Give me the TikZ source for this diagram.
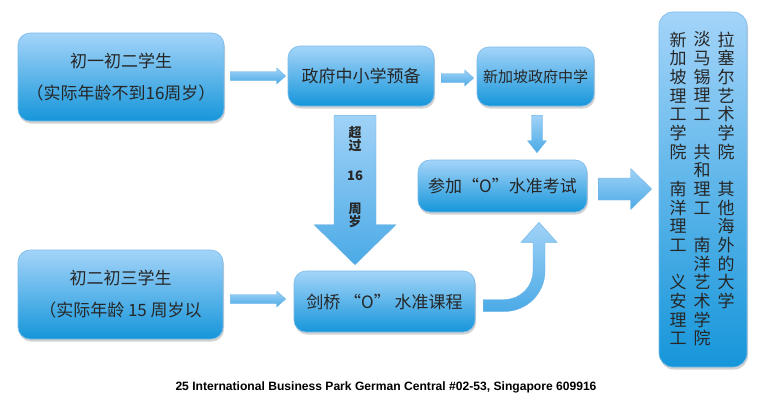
\documentclass[tikz,border=0pt]{standalone}
\usepackage{fontspec}
\newfontfamily\cjk{Noto Sans CJK SC}
\newfontfamily\footfont{Liberation Sans}
\usetikzlibrary{calc,shadows}
\definecolor{boxTop}{RGB}{164,212,249}
\definecolor{boxBot}{RGB}{22,150,218}
\definecolor{boxEdge}{RGB}{120,185,232}
\definecolor{arrTop}{RGB}{160,210,247}
\definecolor{arrBot}{RGB}{75,170,230}
\definecolor{arrEdge}{RGB}{110,180,230}
\definecolor{txt}{RGB}{38,38,38}
\tikzset{
  box/.style={rectangle, rounded corners=12pt, top color=boxTop, bottom color=boxBot,
    draw=boxEdge, line width=0.6pt,
    drop shadow={shadow xshift=1pt, shadow yshift=-2.5pt, opacity=0.35},
    inner sep=0pt, text=txt, font=\cjk\fontsize{17}{32}\selectfont, align=center},
  arrowfill/.style={top color=arrTop, bottom color=arrBot, draw=arrEdge, line width=0.4pt},
  coltext/.style={inner sep=0pt, text=txt, align=center, anchor=north,
    font=\cjk\fontsize{17}{18.67}\selectfont},
}
\newcommand\myHArrow[6]{\path[#6] let \p1=#1, \p2=#2 in
  (\x1,\y1+#3) -- (\x2-#5,\y1+#3) -- (\x2-#5,\y1+#4) -- (\x2,\y1) --
  (\x2-#5,\y1-#4) -- (\x2-#5,\y1-#3) -- (\x1,\y1-#3) -- cycle;}
\newcommand\myVArrow[6]{\path[#6] let \p1=#1, \p2=#2 in
  (\x1-#3,\y1) -- (\x1-#3,\y2+#5) -- (\x1-#4,\y2+#5) -- (\x1,\y2) --
  (\x1+#4,\y2+#5) -- (\x1+#3,\y2+#5) -- (\x1+#3,\y1) -- cycle;}
\begin{document}
\begin{tikzpicture}[x=1pt,y=-1pt]
\fill[white] (0,0) rectangle (760,400);
\useasboundingbox (0,0) rectangle (760,400);

% boxes
\node[box, minimum width=206pt, minimum height=88pt] (a) at (121,77)
  {初一初二学生\\（实际年龄不到16周岁）};
\node[box, minimum width=146pt, minimum height=60pt] (b) at (361,76) {政府中小学预备};
\node[box, minimum width=117pt, minimum height=59pt,
  font=\cjk\fontsize{15}{18}\selectfont] (c) at (535.5,76.5) {新加坡政府中学};
\node[box, minimum width=88pt, minimum height=355pt, rounded corners=14pt] (d) at (703,189.5) {};
\node[box, minimum width=169pt, minimum height=52pt] (e) at (502.5,186) {参加“O”水准考试};
\node[box, minimum width=205pt, minimum height=89pt] (f) at (120.5,294.5)
  {初二初三学生\\（实际年龄 15 周岁以};
\node[box, minimum width=181pt, minimum height=61pt] (g) at (384.5,301.5) {剑桥 “O” 水准课程};

% university columns
\node[coltext] (col1) at (678,31.5)
  {新\\加\\坡\\理\\工\\学\\院\\\phantom{国}\\南\\洋\\理\\工\\\phantom{国}\\义\\安\\理\\工};
\node[coltext] (col2) at (702,31.5)
  {淡\\马\\锡\\理\\工\\\phantom{国}\\共\\和\\理\\工\\\phantom{国}\\南\\洋\\艺\\术\\学\\院};
\node[coltext] (col3) at (726,31.5)
  {拉\\塞\\尔\\艺\\术\\学\\院\\\phantom{国}\\其\\他\\海\\外\\的\\大\\学};

% straight arrows
\myHArrow{($(a.east)+(6,-1)$)}{($(b.west)+(-2,0)$)}{4.5pt}{8pt}{9pt}{arrowfill}
\myHArrow{($(b.east)+(7,2)$)}{($(c.west)+(-3,0)$)}{4.5pt}{8pt}{9pt}{arrowfill}
\myHArrow{($(f.east)+(7,4.5)$)}{($(g.west)+(-8,0)$)}{4.5pt}{8pt}{9pt}{arrowfill}
\myHArrow{($(e.east)+(11,3)$)}{($(d.west)+(-7,0)$)}{11pt}{20.5pt}{21pt}{arrowfill}
\myVArrow{($(c.south)+(1.5,9)$)}{($(e.north)+(0,-7)$)}{5.5pt}{9.5pt}{12pt}{arrowfill}
\myVArrow{($(b.south)+(-6,9)$)}{($(g.north)+(0,-6)$)}{21pt}{41pt}{40pt}{arrowfill}

\node[inner sep=0pt, anchor=north, align=center, text=txt,
  font=\cjk\bfseries\fontsize{13}{13.5}\selectfont] (over16) at ($(b.south)+(-6,19.5)$)
  {超\\过\\[16pt]16\\[19.5pt]周\\岁};

% curved arrow from g up to e
\coordinate (gs) at ($(g.east)+(8,4)$);
\coordinate (et) at ($(e.south)+(36.5,10)$);
\path[arrowfill]
  ([shift={(0,-6)}]gs) -- ([shift={(21,-6)}]gs)
  .. controls ([shift={(37,-6)}]gs) and ([shift={(-6,64.5)}]et) .. ([shift={(-6,48.5)}]et)
  -- ([shift={(-6,20)}]et) -- ([shift={(-18,20)}]et) -- (et)
  -- ([shift={(18,20)}]et) -- ([shift={(6,20)}]et) -- ([shift={(6,48.5)}]et)
  .. controls ([shift={(6,71.1)}]et) and ([shift={(43.6,6)}]gs) .. ([shift={(21,6)}]gs)
  -- ([shift={(0,6)}]gs) -- cycle;

% footer
\node[inner sep=0pt, font=\footfont\bfseries\fontsize{12.1}{14}\selectfont] (addr) at (386,387)
  {25 International Business Park German Central \#02-53, Singapore 609916};
\end{tikzpicture}
\end{document}
